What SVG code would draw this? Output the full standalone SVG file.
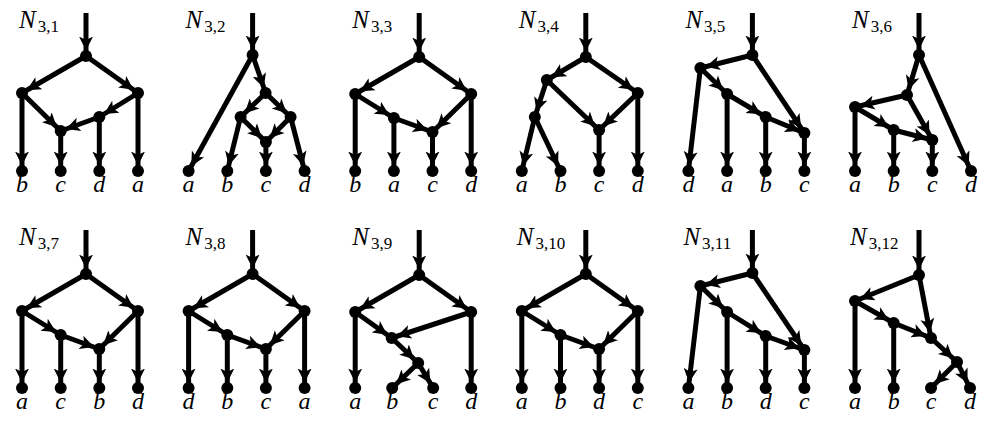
<svg xmlns="http://www.w3.org/2000/svg" width="996" height="421" viewBox="0 0 996 421">
<style>
.e line{stroke:#000;stroke-width:5;fill:none;marker-end:url(#ah)}
circle{fill:#000}
.lbl{font-family:"Liberation Serif","DejaVu Serif",serif;font-style:italic;font-size:24px;text-anchor:middle;fill:#000}
.ttl{font-family:"Liberation Serif","DejaVu Serif",serif;font-style:italic;font-size:25px;fill:#000}
.sub{font-style:normal;font-size:17px}
</style>
<defs>
<marker id="ah" viewBox="0 -8 15 16" markerWidth="15" markerHeight="16" refX="19.5" refY="0" orient="auto" markerUnits="userSpaceOnUse"><path d="M14,0 L0,-7 L3.5,0 L0,7 Z" fill="#000"/></marker>
</defs>
<rect width="996" height="421" fill="#fff"/>

<g id="N3_1">
<text class="ttl" x="19" y="28">N<tspan class="sub" dx="2" dy="4">3,1</tspan></text>
<g class="e" id="N3_1-edges">
<line x1="86" y1="13" x2="86" y2="56"/><line x1="86" y1="56" x2="22" y2="93"/><line x1="86" y1="56" x2="138" y2="93"/>
<line x1="22" y1="93" x2="22" y2="171"/><line x1="22" y1="93" x2="60.7" y2="131"/><line x1="138" y1="93" x2="99.3" y2="117"/>
<line x1="138" y1="93" x2="138" y2="171"/><line x1="99.3" y1="117" x2="60.7" y2="131"/><line x1="99.3" y1="117" x2="99.3" y2="171"/>
<line x1="60.7" y1="131" x2="60.7" y2="171"/>
</g>
<g id="N3_1-r"><circle cx="86" cy="56" r="6"/></g>
<g id="N3_1-L"><circle cx="22" cy="93" r="6"/></g>
<g id="N3_1-R"><circle cx="138" cy="93" r="6"/></g>
<g id="N3_1-M"><circle cx="99.3" cy="117" r="6"/></g>
<g id="N3_1-H"><circle cx="60.7" cy="131" r="6"/></g>
<g id="N3_1-b"><circle cx="22" cy="171" r="6"/><text class="lbl" x="22" y="192">b</text></g>
<g id="N3_1-c"><circle cx="60.7" cy="171" r="6"/><text class="lbl" x="60.7" y="192">c</text></g>
<g id="N3_1-d"><circle cx="99.3" cy="171" r="6"/><text class="lbl" x="99.3" y="192">d</text></g>
<g id="N3_1-a"><circle cx="138" cy="171" r="6"/><text class="lbl" x="138" y="192">a</text></g>
</g>

<g id="N3_2" transform="translate(166.6,0)">
<text class="ttl" x="19" y="28">N<tspan class="sub" dx="2" dy="4">3,2</tspan></text>
<g class="e" id="N3_2-edges">
<line x1="86" y1="13" x2="86" y2="55"/><line x1="86" y1="55" x2="22" y2="171"/><line x1="86" y1="55" x2="99" y2="93"/>
<line x1="99" y1="93" x2="74" y2="117"/><line x1="99" y1="93" x2="124" y2="117"/><line x1="74" y1="117" x2="60.7" y2="171"/>
<line x1="74" y1="117" x2="99.3" y2="142"/><line x1="124" y1="117" x2="99.3" y2="142"/><line x1="124" y1="117" x2="138" y2="171"/>
<line x1="99.3" y1="142" x2="99.3" y2="171"/>
</g>
<g id="N3_2-r"><circle cx="86" cy="55" r="6"/></g>
<g id="N3_2-A"><circle cx="99" cy="93" r="6"/></g>
<g id="N3_2-BL"><circle cx="74" cy="117" r="6"/></g>
<g id="N3_2-BR"><circle cx="124" cy="117" r="6"/></g>
<g id="N3_2-H"><circle cx="99.3" cy="142" r="6"/></g>
<g id="N3_2-a"><circle cx="22" cy="171" r="6"/><text class="lbl" x="22" y="192">a</text></g>
<g id="N3_2-b"><circle cx="60.7" cy="171" r="6"/><text class="lbl" x="60.7" y="192">b</text></g>
<g id="N3_2-c"><circle cx="99.3" cy="171" r="6"/><text class="lbl" x="99.3" y="192">c</text></g>
<g id="N3_2-d"><circle cx="138" cy="171" r="6"/><text class="lbl" x="138" y="192">d</text></g>
</g>

<g id="N3_3" transform="translate(333.2,0)">
<text class="ttl" x="19" y="28">N<tspan class="sub" dx="2" dy="4">3,3</tspan></text>
<g class="e" id="N3_3-edges">
<line x1="86" y1="13" x2="86" y2="57"/><line x1="86" y1="57" x2="22" y2="94"/><line x1="86" y1="57" x2="138" y2="94"/>
<line x1="22" y1="94" x2="22" y2="171"/><line x1="22" y1="94" x2="60.7" y2="118"/><line x1="60.7" y1="118" x2="60.7" y2="171"/>
<line x1="60.7" y1="118" x2="99.3" y2="132"/><line x1="138" y1="94" x2="99.3" y2="132"/><line x1="138" y1="94" x2="138" y2="171"/>
<line x1="99.3" y1="132" x2="99.3" y2="171"/>
</g>
<g id="N3_3-r"><circle cx="86" cy="57" r="6"/></g>
<g id="N3_3-L"><circle cx="22" cy="94" r="6"/></g>
<g id="N3_3-R"><circle cx="138" cy="94" r="6"/></g>
<g id="N3_3-M"><circle cx="60.7" cy="118" r="6"/></g>
<g id="N3_3-H"><circle cx="99.3" cy="132" r="6"/></g>
<g id="N3_3-b"><circle cx="22" cy="171" r="6"/><text class="lbl" x="22" y="192">b</text></g>
<g id="N3_3-a"><circle cx="60.7" cy="171" r="6"/><text class="lbl" x="60.7" y="192">a</text></g>
<g id="N3_3-c"><circle cx="99.3" cy="171" r="6"/><text class="lbl" x="99.3" y="192">c</text></g>
<g id="N3_3-d"><circle cx="138" cy="171" r="6"/><text class="lbl" x="138" y="192">d</text></g>
</g>

<g id="N3_4" transform="translate(499.8,0)">
<text class="ttl" x="19" y="28">N<tspan class="sub" dx="2" dy="4">3,4</tspan></text>
<g class="e" id="N3_4-edges">
<line x1="86" y1="13" x2="86" y2="57"/><line x1="86" y1="57" x2="47" y2="80"/><line x1="86" y1="57" x2="138" y2="93"/>
<line x1="47" y1="80" x2="35" y2="117"/><line x1="47" y1="80" x2="99.3" y2="130"/><line x1="35" y1="117" x2="22" y2="171"/>
<line x1="35" y1="117" x2="60.7" y2="171"/><line x1="138" y1="93" x2="99.3" y2="130"/><line x1="138" y1="93" x2="138" y2="171"/>
<line x1="99.3" y1="130" x2="99.3" y2="171"/>
</g>
<g id="N3_4-r"><circle cx="86" cy="57" r="6"/></g>
<g id="N3_4-L"><circle cx="47" cy="80" r="6"/></g>
<g id="N3_4-R"><circle cx="138" cy="93" r="6"/></g>
<g id="N3_4-LL"><circle cx="35" cy="117" r="6"/></g>
<g id="N3_4-H"><circle cx="99.3" cy="130" r="6"/></g>
<g id="N3_4-a"><circle cx="22" cy="171" r="6"/><text class="lbl" x="22" y="192">a</text></g>
<g id="N3_4-b"><circle cx="60.7" cy="171" r="6"/><text class="lbl" x="60.7" y="192">b</text></g>
<g id="N3_4-c"><circle cx="99.3" cy="171" r="6"/><text class="lbl" x="99.3" y="192">c</text></g>
<g id="N3_4-d"><circle cx="138" cy="171" r="6"/><text class="lbl" x="138" y="192">d</text></g>
</g>

<g id="N3_5" transform="translate(666.4,0)">
<text class="ttl" x="19" y="28">N<tspan class="sub" dx="2" dy="4">3,5</tspan></text>
<g class="e" id="N3_5-edges">
<line x1="86" y1="13" x2="86" y2="55"/><line x1="86" y1="55" x2="34" y2="68"/><line x1="86" y1="55" x2="138" y2="133"/>
<line x1="34" y1="68" x2="22" y2="171"/><line x1="34" y1="68" x2="60.7" y2="94"/><line x1="60.7" y1="94" x2="60.7" y2="171"/>
<line x1="60.7" y1="94" x2="99.3" y2="117"/><line x1="99.3" y1="117" x2="99.3" y2="171"/><line x1="99.3" y1="117" x2="138" y2="133"/>
<line x1="138" y1="133" x2="138" y2="171"/>
</g>
<g id="N3_5-r"><circle cx="86" cy="55" r="6"/></g>
<g id="N3_5-L"><circle cx="34" cy="68" r="6"/></g>
<g id="N3_5-N1"><circle cx="60.7" cy="94" r="6"/></g>
<g id="N3_5-N2"><circle cx="99.3" cy="117" r="6"/></g>
<g id="N3_5-H"><circle cx="138" cy="133" r="6"/></g>
<g id="N3_5-d"><circle cx="22" cy="171" r="6"/><text class="lbl" x="22" y="192">d</text></g>
<g id="N3_5-a"><circle cx="60.7" cy="171" r="6"/><text class="lbl" x="60.7" y="192">a</text></g>
<g id="N3_5-b"><circle cx="99.3" cy="171" r="6"/><text class="lbl" x="99.3" y="192">b</text></g>
<g id="N3_5-c"><circle cx="138" cy="171" r="6"/><text class="lbl" x="138" y="192">c</text></g>
</g>

<g id="N3_6" transform="translate(833,0)">
<text class="ttl" x="19" y="28">N<tspan class="sub" dx="2" dy="4">3,6</tspan></text>
<g class="e" id="N3_6-edges">
<line x1="86" y1="13" x2="86" y2="55"/><line x1="86" y1="55" x2="74" y2="95"/><line x1="86" y1="55" x2="138" y2="171"/>
<line x1="74" y1="95" x2="22" y2="107"/><line x1="74" y1="95" x2="99.3" y2="140"/><line x1="22" y1="107" x2="22" y2="171"/>
<line x1="22" y1="107" x2="60.7" y2="130"/><line x1="60.7" y1="130" x2="60.7" y2="171"/><line x1="60.7" y1="130" x2="99.3" y2="140"/>
<line x1="99.3" y1="140" x2="99.3" y2="171"/>
</g>
<g id="N3_6-r"><circle cx="86" cy="55" r="6"/></g>
<g id="N3_6-A"><circle cx="74" cy="95" r="6"/></g>
<g id="N3_6-L"><circle cx="22" cy="107" r="6"/></g>
<g id="N3_6-N1"><circle cx="60.7" cy="130" r="6"/></g>
<g id="N3_6-H"><circle cx="99.3" cy="140" r="6"/></g>
<g id="N3_6-a"><circle cx="22" cy="171" r="6"/><text class="lbl" x="22" y="192">a</text></g>
<g id="N3_6-b"><circle cx="60.7" cy="171" r="6"/><text class="lbl" x="60.7" y="192">b</text></g>
<g id="N3_6-c"><circle cx="99.3" cy="171" r="6"/><text class="lbl" x="99.3" y="192">c</text></g>
<g id="N3_6-d"><circle cx="138" cy="171" r="6"/><text class="lbl" x="138" y="192">d</text></g>
</g>

<g id="N3_7" transform="translate(0,217)">
<text class="ttl" x="19" y="28">N<tspan class="sub" dx="2" dy="4">3,7</tspan></text>
<g class="e" id="N3_7-edges">
<line x1="86" y1="13" x2="86" y2="57"/><line x1="86" y1="57" x2="22" y2="94"/><line x1="86" y1="57" x2="138" y2="94"/>
<line x1="22" y1="94" x2="22" y2="171"/><line x1="22" y1="94" x2="60.7" y2="118"/><line x1="60.7" y1="118" x2="60.7" y2="171"/>
<line x1="60.7" y1="118" x2="99.3" y2="132"/><line x1="138" y1="94" x2="99.3" y2="132"/><line x1="138" y1="94" x2="138" y2="171"/>
<line x1="99.3" y1="132" x2="99.3" y2="171"/>
</g>
<g id="N3_7-r"><circle cx="86" cy="57" r="6"/></g>
<g id="N3_7-L"><circle cx="22" cy="94" r="6"/></g>
<g id="N3_7-R"><circle cx="138" cy="94" r="6"/></g>
<g id="N3_7-M"><circle cx="60.7" cy="118" r="6"/></g>
<g id="N3_7-H"><circle cx="99.3" cy="132" r="6"/></g>
<g id="N3_7-a"><circle cx="22" cy="171" r="6"/><text class="lbl" x="22" y="192">a</text></g>
<g id="N3_7-c"><circle cx="60.7" cy="171" r="6"/><text class="lbl" x="60.7" y="192">c</text></g>
<g id="N3_7-b"><circle cx="99.3" cy="171" r="6"/><text class="lbl" x="99.3" y="192">b</text></g>
<g id="N3_7-d"><circle cx="138" cy="171" r="6"/><text class="lbl" x="138" y="192">d</text></g>
</g>

<g id="N3_8" transform="translate(166.6,217)">
<text class="ttl" x="19" y="28">N<tspan class="sub" dx="2" dy="4">3,8</tspan></text>
<g class="e" id="N3_8-edges">
<line x1="86" y1="13" x2="86" y2="57"/><line x1="86" y1="57" x2="22" y2="94"/><line x1="86" y1="57" x2="138" y2="94"/>
<line x1="22" y1="94" x2="22" y2="171"/><line x1="22" y1="94" x2="60.7" y2="118"/><line x1="60.7" y1="118" x2="60.7" y2="171"/>
<line x1="60.7" y1="118" x2="99.3" y2="132"/><line x1="138" y1="94" x2="99.3" y2="132"/><line x1="138" y1="94" x2="138" y2="171"/>
<line x1="99.3" y1="132" x2="99.3" y2="171"/>
</g>
<g id="N3_8-r"><circle cx="86" cy="57" r="6"/></g>
<g id="N3_8-L"><circle cx="22" cy="94" r="6"/></g>
<g id="N3_8-R"><circle cx="138" cy="94" r="6"/></g>
<g id="N3_8-M"><circle cx="60.7" cy="118" r="6"/></g>
<g id="N3_8-H"><circle cx="99.3" cy="132" r="6"/></g>
<g id="N3_8-d"><circle cx="22" cy="171" r="6"/><text class="lbl" x="22" y="192">d</text></g>
<g id="N3_8-b"><circle cx="60.7" cy="171" r="6"/><text class="lbl" x="60.7" y="192">b</text></g>
<g id="N3_8-c"><circle cx="99.3" cy="171" r="6"/><text class="lbl" x="99.3" y="192">c</text></g>
<g id="N3_8-a"><circle cx="138" cy="171" r="6"/><text class="lbl" x="138" y="192">a</text></g>
</g>

<g id="N3_9" transform="translate(333.2,217)">
<text class="ttl" x="19" y="28">N<tspan class="sub" dx="2" dy="4">3,9</tspan></text>
<g class="e" id="N3_9-edges">
<line x1="86" y1="13" x2="86" y2="58"/><line x1="86" y1="58" x2="22" y2="95"/><line x1="86" y1="58" x2="138" y2="95"/>
<line x1="22" y1="95" x2="22" y2="171"/><line x1="22" y1="95" x2="58.5" y2="121"/><line x1="138" y1="95" x2="58.5" y2="121"/>
<line x1="138" y1="95" x2="138" y2="171"/><line x1="58.5" y1="121" x2="85" y2="146"/><line x1="85" y1="146" x2="59" y2="171"/>
<line x1="85" y1="146" x2="100" y2="171"/>
</g>
<g id="N3_9-r"><circle cx="86" cy="58" r="6"/></g>
<g id="N3_9-L"><circle cx="22" cy="95" r="6"/></g>
<g id="N3_9-R"><circle cx="138" cy="95" r="6"/></g>
<g id="N3_9-M"><circle cx="58.5" cy="121" r="6"/></g>
<g id="N3_9-N"><circle cx="85" cy="146" r="6"/></g>
<g id="N3_9-a"><circle cx="22" cy="171" r="6"/><text class="lbl" x="22" y="192">a</text></g>
<g id="N3_9-b"><circle cx="59" cy="171" r="6"/><text class="lbl" x="59" y="192">b</text></g>
<g id="N3_9-c"><circle cx="100" cy="171" r="6"/><text class="lbl" x="100" y="192">c</text></g>
<g id="N3_9-d"><circle cx="138" cy="171" r="6"/><text class="lbl" x="138" y="192">d</text></g>
</g>

<g id="N3_10" transform="translate(499.8,217)">
<text class="ttl" x="17" y="28">N<tspan class="sub" dx="2" dy="4">3,10</tspan></text>
<g class="e" id="N3_10-edges">
<line x1="86" y1="13" x2="86" y2="57"/><line x1="86" y1="57" x2="22" y2="94"/><line x1="86" y1="57" x2="138" y2="94"/>
<line x1="22" y1="94" x2="22" y2="171"/><line x1="22" y1="94" x2="60.7" y2="118"/><line x1="60.7" y1="118" x2="60.7" y2="171"/>
<line x1="60.7" y1="118" x2="99.3" y2="132"/><line x1="138" y1="94" x2="99.3" y2="132"/><line x1="138" y1="94" x2="138" y2="171"/>
<line x1="99.3" y1="132" x2="99.3" y2="171"/>
</g>
<g id="N3_10-r"><circle cx="86" cy="57" r="6"/></g>
<g id="N3_10-L"><circle cx="22" cy="94" r="6"/></g>
<g id="N3_10-R"><circle cx="138" cy="94" r="6"/></g>
<g id="N3_10-M"><circle cx="60.7" cy="118" r="6"/></g>
<g id="N3_10-H"><circle cx="99.3" cy="132" r="6"/></g>
<g id="N3_10-a"><circle cx="22" cy="171" r="6"/><text class="lbl" x="22" y="192">a</text></g>
<g id="N3_10-b"><circle cx="60.7" cy="171" r="6"/><text class="lbl" x="60.7" y="192">b</text></g>
<g id="N3_10-d"><circle cx="99.3" cy="171" r="6"/><text class="lbl" x="99.3" y="192">d</text></g>
<g id="N3_10-c"><circle cx="138" cy="171" r="6"/><text class="lbl" x="138" y="192">c</text></g>
</g>

<g id="N3_11" transform="translate(666.4,217)">
<text class="ttl" x="17" y="28">N<tspan class="sub" dx="2" dy="4">3,11</tspan></text>
<g class="e" id="N3_11-edges">
<line x1="86" y1="13" x2="86" y2="56"/><line x1="86" y1="56" x2="34" y2="69"/><line x1="86" y1="56" x2="138" y2="133"/>
<line x1="34" y1="69" x2="22" y2="171"/><line x1="34" y1="69" x2="60.7" y2="95"/><line x1="60.7" y1="95" x2="60.7" y2="171"/>
<line x1="60.7" y1="95" x2="99.3" y2="119"/><line x1="99.3" y1="119" x2="99.3" y2="171"/><line x1="99.3" y1="119" x2="138" y2="133"/>
<line x1="138" y1="133" x2="138" y2="171"/>
</g>
<g id="N3_11-r"><circle cx="86" cy="56" r="6"/></g>
<g id="N3_11-L"><circle cx="34" cy="69" r="6"/></g>
<g id="N3_11-N1"><circle cx="60.7" cy="95" r="6"/></g>
<g id="N3_11-N2"><circle cx="99.3" cy="119" r="6"/></g>
<g id="N3_11-H"><circle cx="138" cy="133" r="6"/></g>
<g id="N3_11-a"><circle cx="22" cy="171" r="6"/><text class="lbl" x="22" y="192">a</text></g>
<g id="N3_11-b"><circle cx="60.7" cy="171" r="6"/><text class="lbl" x="60.7" y="192">b</text></g>
<g id="N3_11-d"><circle cx="99.3" cy="171" r="6"/><text class="lbl" x="99.3" y="192">d</text></g>
<g id="N3_11-c"><circle cx="138" cy="171" r="6"/><text class="lbl" x="138" y="192">c</text></g>
</g>

<g id="N3_12" transform="translate(833,217)">
<text class="ttl" x="17" y="28">N<tspan class="sub" dx="2" dy="4">3,12</tspan></text>
<g class="e" id="N3_12-edges">
<line x1="86" y1="13" x2="86" y2="58"/><line x1="86" y1="58" x2="22" y2="84"/><line x1="86" y1="58" x2="98" y2="121"/>
<line x1="22" y1="84" x2="22" y2="171"/><line x1="22" y1="84" x2="60.7" y2="106"/><line x1="60.7" y1="106" x2="60.7" y2="171"/>
<line x1="60.7" y1="106" x2="98" y2="121"/><line x1="98" y1="121" x2="124" y2="145"/><line x1="124" y1="145" x2="98" y2="171"/>
<line x1="124" y1="145" x2="137" y2="171"/>
</g>
<g id="N3_12-r"><circle cx="86" cy="58" r="6"/></g>
<g id="N3_12-L"><circle cx="22" cy="84" r="6"/></g>
<g id="N3_12-N1"><circle cx="60.7" cy="106" r="6"/></g>
<g id="N3_12-H"><circle cx="98" cy="121" r="6"/></g>
<g id="N3_12-N2"><circle cx="124" cy="145" r="6"/></g>
<g id="N3_12-a"><circle cx="22" cy="171" r="6"/><text class="lbl" x="22" y="192">a</text></g>
<g id="N3_12-b"><circle cx="60.7" cy="171" r="6"/><text class="lbl" x="60.7" y="192">b</text></g>
<g id="N3_12-c"><circle cx="98" cy="171" r="6"/><text class="lbl" x="98" y="192">c</text></g>
<g id="N3_12-d"><circle cx="137" cy="171" r="6"/><text class="lbl" x="137" y="192">d</text></g>
</g>
</svg>
